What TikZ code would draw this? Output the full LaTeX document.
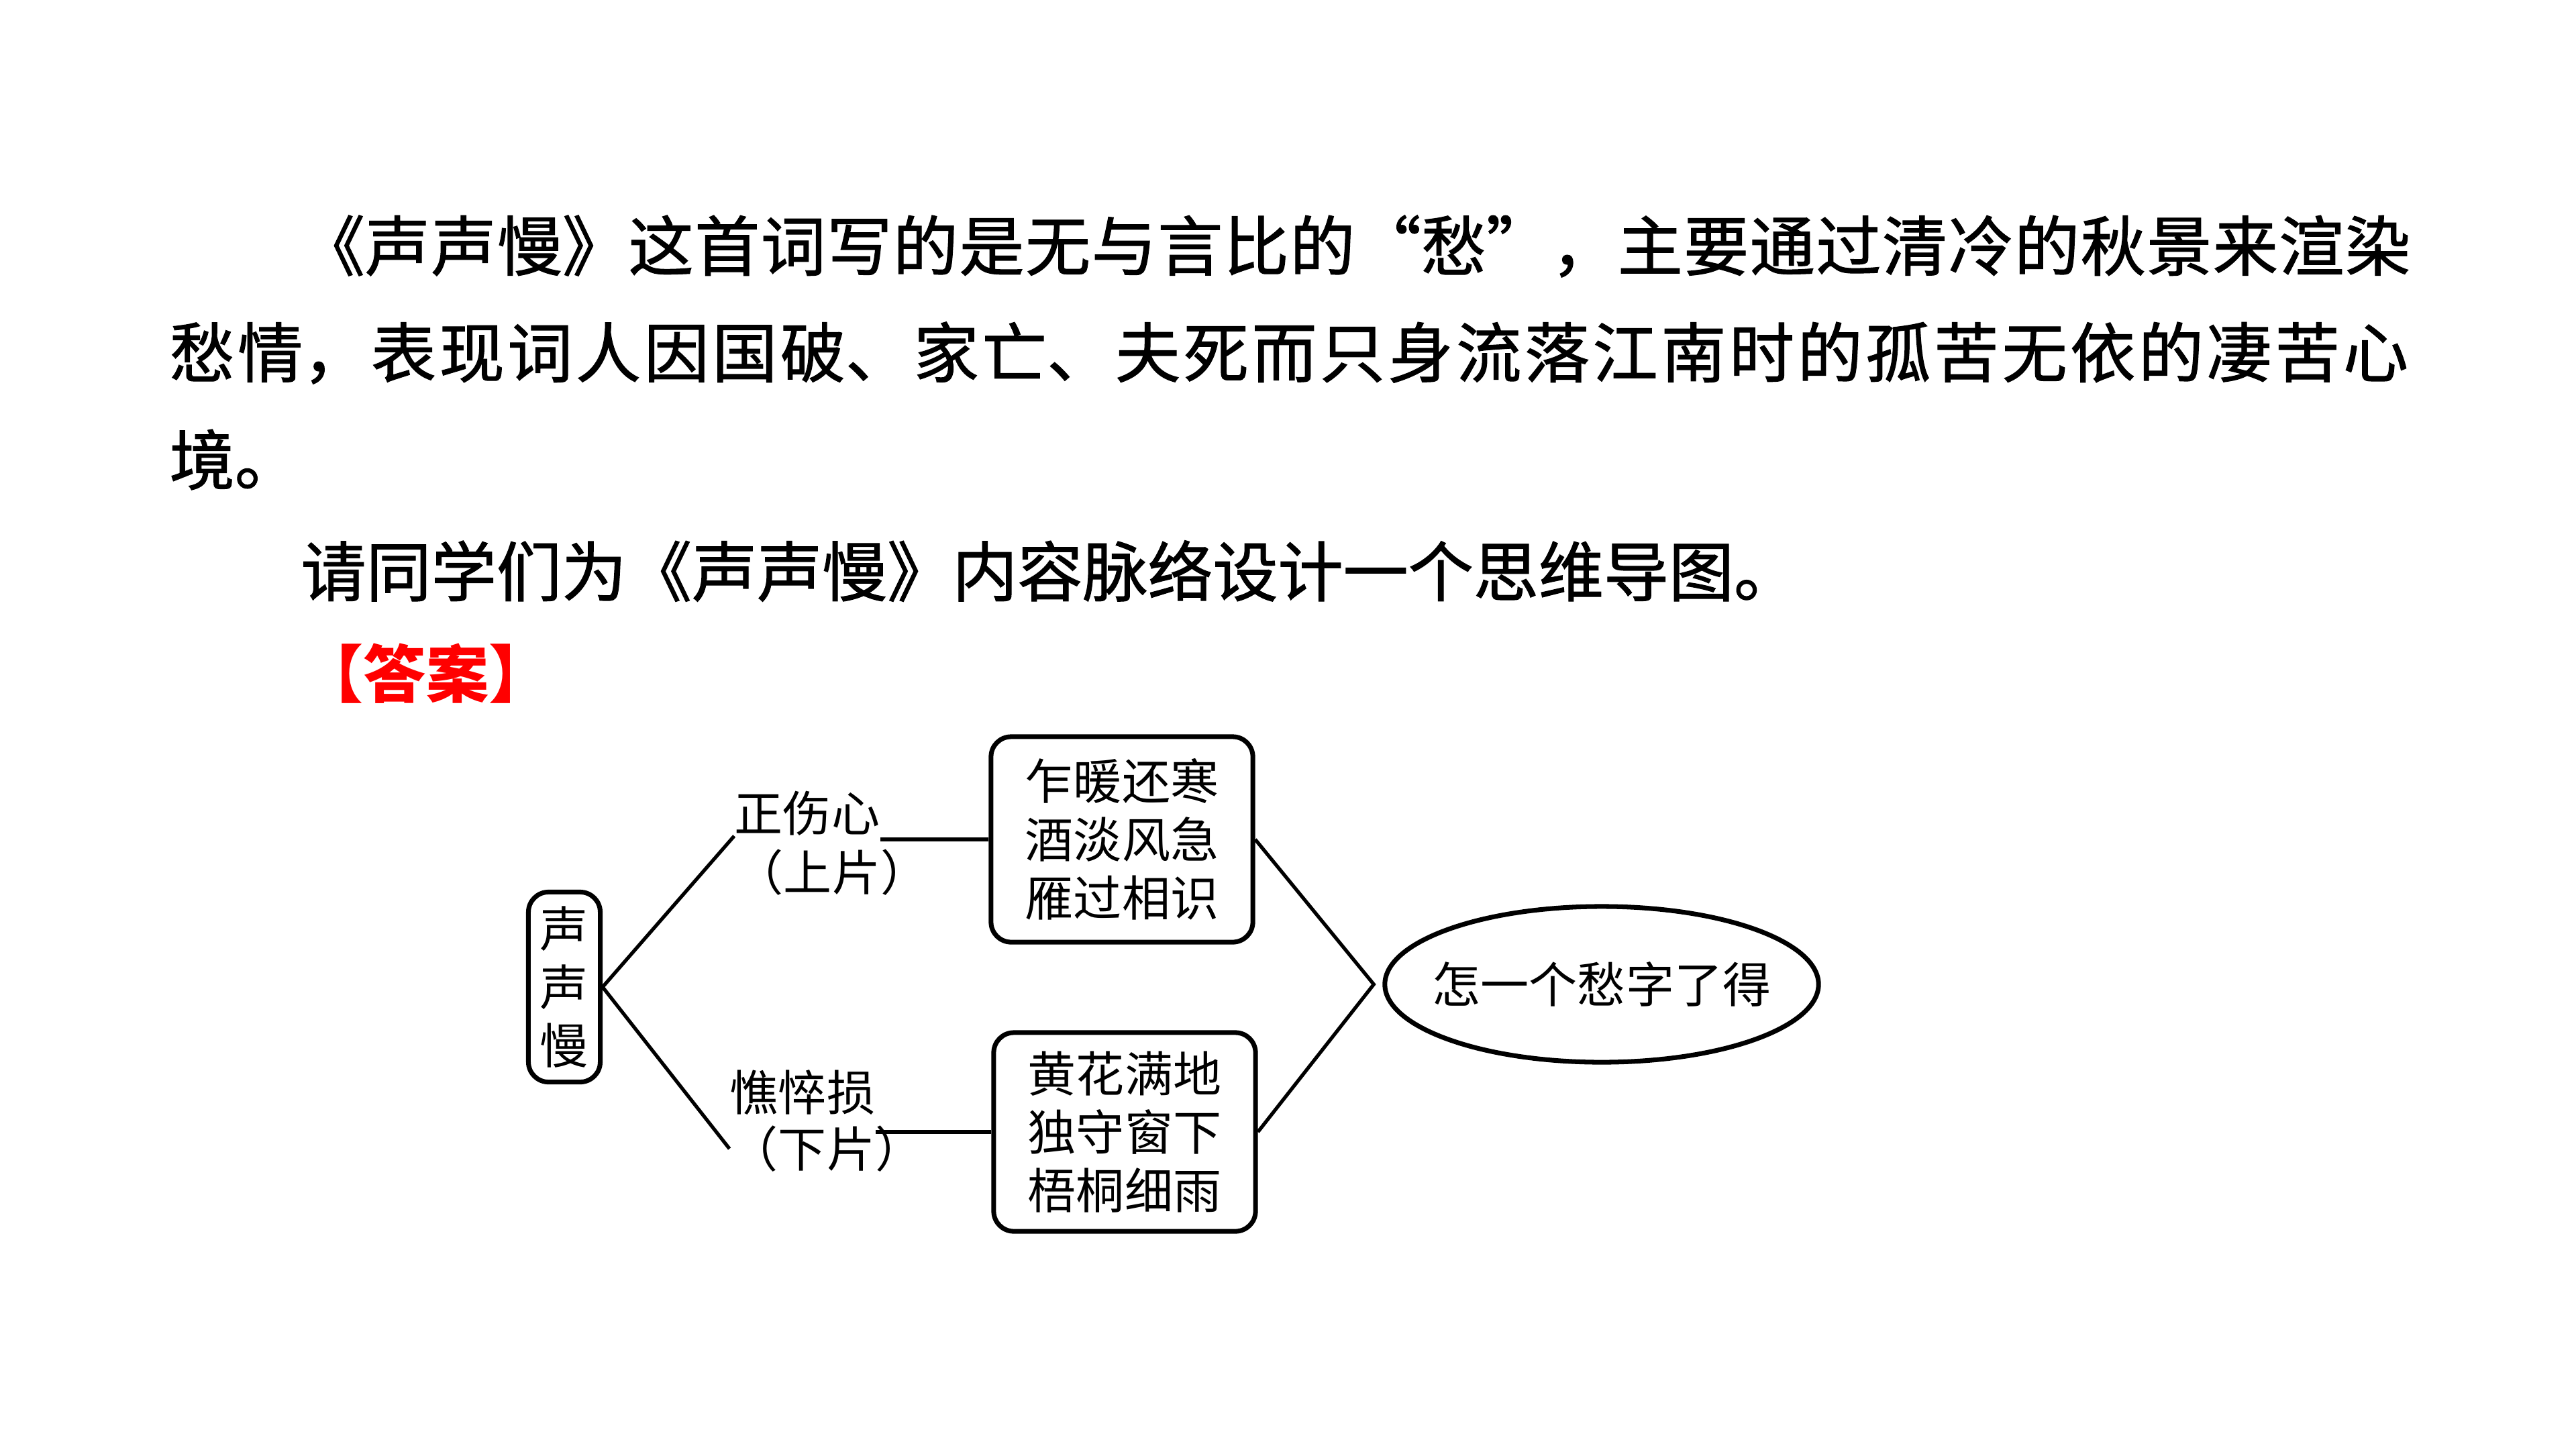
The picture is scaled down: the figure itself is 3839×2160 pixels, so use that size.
\documentclass[tikz,border=0pt]{standalone}
\usepackage{fontspec}
\setmainfont{Noto Sans CJK SC}
\newfontfamily\bodyfont{Noto Sans CJK SC}[FakeBold=1.2]
\usetikzlibrary{shapes.geometric, calc}
\definecolor{ansred}{HTML}{FF0000}
\XeTeXlinebreaklocale "zh"
\XeTeXlinebreakskip=0pt plus 1fil

\begin{document}
\begin{tikzpicture}[
    x=0.01cm, y=-0.01cm,
    body/.style={anchor=west, inner sep=0pt, font=\bodyfont\fontsize{27.6pt}{45pt}\selectfont},
    mbox/.style={draw, line width=2pt, rounded corners=0.3cm, align=center,
      inner sep=0pt, font=\fontsize{20.5pt}{24.7pt}\selectfont},
    lbl/.style={inner sep=0pt, font=\fontsize{20.5pt}{24.7pt}\selectfont},
    link/.style={line width=1.5pt},
  ]

  \useasboundingbox (0,0) rectangle (3839,2160);

  % Question text
  \node[body, text width=33.39cm, align=justify] (p1) at (252,367)
    {\parfillskip=0pt\noindent\hspace*{2em}《声声慢》这首词写的是无与言比的“愁”，主要通过清冷的秋景来渲染};
  \node[body, text width=33.39cm, align=justify] (p2) at (252,526)
    {\parfillskip=0pt\noindent 愁情，表现词人因国破、家亡、夫死而只身流落江南时的孤苦无依的凄苦心};
  \node[body] (p3) at (252,685) {境。};
  \node[body] (p4) at (448,851) {请同学们为《声声慢》内容脉络设计一个思维导图。};
  \node[body, font=\fontsize{26.5pt}{30pt}\selectfont\bfseries, text=ansred] (ans) at (448,1004) {【答案】};

  % === Mind map ===
  \node[mbox, minimum width=1.07cm, minimum height=2.83cm] (root) at (841,1471) {声\\声\\慢};

  \node[lbl] (zs1) at (1203,1212) {正伤心};
  \node[lbl] (zs2) at (1240,1300) {（上片）};
  \node[lbl] (qc1) at (1196,1628) {憔悴损};
  \node[lbl] (qc2) at (1232,1712) {（下片）};

  \node[mbox, minimum width=3.9cm, minimum height=3.06cm] (ubox) at (1672,1251)
    {乍暖还寒\\酒淡风急\\雁过相识};
  \node[mbox, minimum width=3.9cm, minimum height=2.96cm] (lbox) at (1676,1687)
    {黄花满地\\独守窗下\\梧桐细雨};

  \node[draw, ellipse, line width=2pt, minimum width=6.46cm, minimum height=2.32cm,
        inner sep=0pt, font=\fontsize{20.5pt}{24.7pt}\selectfont] (ell) at (2387,1467)
    {\makebox[0pt]{怎一个愁字了得}};
  \coordinate (meet) at ($(ell.west)+(-13,0)$);

  % Connectors
  \draw[link] (zs1.south west) -- (root.east) -- (qc2.west);
  \draw[link] (ubox.west) -- (ubox.west -| zs1.east);
  \draw[link] (lbox.west) -- (lbox.west -| qc1.east);
  \draw[link] (ubox.east) -- (meet) -- (lbox.east);

\end{tikzpicture}
\end{document}
